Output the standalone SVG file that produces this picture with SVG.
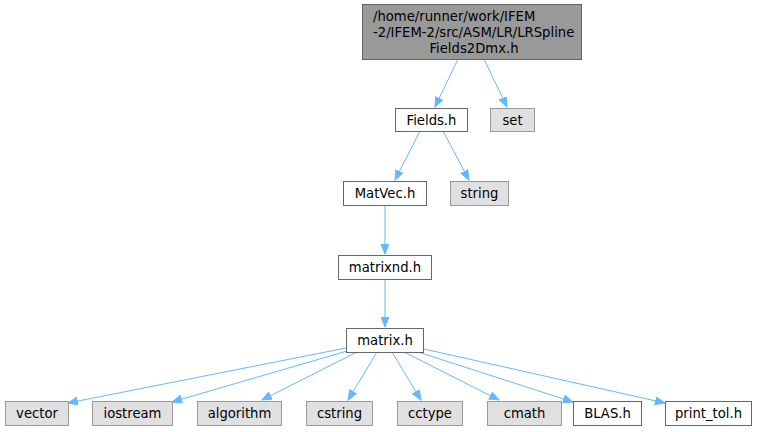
<svg xmlns="http://www.w3.org/2000/svg" width="759" height="432" viewBox="0 0 759 432">
<style>
text{font-family:"DejaVu Sans","Liberation Sans",sans-serif;font-size:13.2px;fill:#000;text-anchor:middle}
text.l{text-anchor:start}
.w{fill:#fff;stroke:#666;stroke-width:1}
.g{fill:#e0e0e0;stroke:#999;stroke-width:1}
.m{fill:#999;stroke:#666;stroke-width:1}
.e{fill:none;stroke:#63b8ff;stroke-width:1;marker-end:url(#a)}
</style>
<defs>
<marker id="a" markerUnits="userSpaceOnUse" markerWidth="12" markerHeight="10" refX="10" refY="4" orient="auto">
<path d="M0,0 L10,4 L0,8 Z" fill="#63b8ff" stroke="#63b8ff"/>
</marker>
</defs>
<g id="edges">
<path class="e" d="M458,59 L435,107"/>
<path class="e" d="M484,59 L507,107"/>
<path class="e" d="M420,131 L395,180"/>
<path class="e" d="M443,131 L469,180"/>
<path class="e" d="M385,206 L385,254"/>
<path class="e" d="M385,280 L385,327"/>
<path class="e" d="M346,348 L68,403"/>
<path class="e" d="M347,351 L172,402"/>
<path class="e" d="M357,352 L262,400"/>
<path class="e" d="M377,352 L348,400"/>
<path class="e" d="M392,352 L421,400"/>
<path class="e" d="M404,352 L499,400"/>
<path class="e" d="M418,352 L573,402"/>
<path class="e" d="M424,349 L665,403"/>
</g>
<g id="n_top"><rect class="m" x="362.5" y="4.5" width="219" height="55"/>
<text class="l" x="373" y="21">/home/runner/work/IFEM</text>
<text class="l" x="373" y="37">-2/IFEM-2/src/ASM/LR/LRSpline</text>
<text x="474" y="53">Fields2Dmx.h</text></g>
<g id="n_fields"><rect class="w" x="395.5" y="108.5" width="72" height="23"/><text x="431.5" y="124.5">Fields.h</text></g>
<g id="n_set"><rect class="g" x="490.5" y="108.5" width="44" height="23"/><text x="512.5" y="124.5">set</text></g>
<g id="n_matvec"><rect class="w" x="343.5" y="181.5" width="83" height="24"/><text x="385" y="198">MatVec.h</text></g>
<g id="n_string"><rect class="g" x="450.5" y="181.5" width="58" height="24"/><text x="479.5" y="198">string</text></g>
<g id="n_matrixnd"><rect class="w" x="338.5" y="255.5" width="93" height="24"/><text x="385" y="272">matrixnd.h</text></g>
<g id="n_matrix"><rect class="w" x="346.5" y="328.5" width="77" height="24"/><text x="385" y="345">matrix.h</text></g>
<g id="n_vector"><rect class="g" x="5.5" y="401.5" width="63" height="24"/><text x="37" y="418">vector</text></g>
<g id="n_iostream"><rect class="g" x="92.5" y="401.5" width="80" height="24"/><text x="132.5" y="418">iostream</text></g>
<g id="n_algorithm"><rect class="g" x="197.5" y="401.5" width="84" height="24"/><text x="239.5" y="418">algorithm</text></g>
<g id="n_cstring"><rect class="g" x="306.5" y="401.5" width="66" height="24"/><text x="339.5" y="418">cstring</text></g>
<g id="n_cctype"><rect class="g" x="397.5" y="401.5" width="65" height="24"/><text x="430" y="418">cctype</text></g>
<g id="n_cmath"><rect class="g" x="487.5" y="401.5" width="74" height="24"/><text x="524.5" y="418">cmath</text></g>
<g id="n_blas"><rect class="w" x="573.5" y="401.5" width="68" height="24"/><text x="607.5" y="418">BLAS.h</text></g>
<g id="n_printtol"><rect class="w" x="665.5" y="401.5" width="86" height="24"/><text x="708.5" y="418">print_tol.h</text></g>
</svg>
